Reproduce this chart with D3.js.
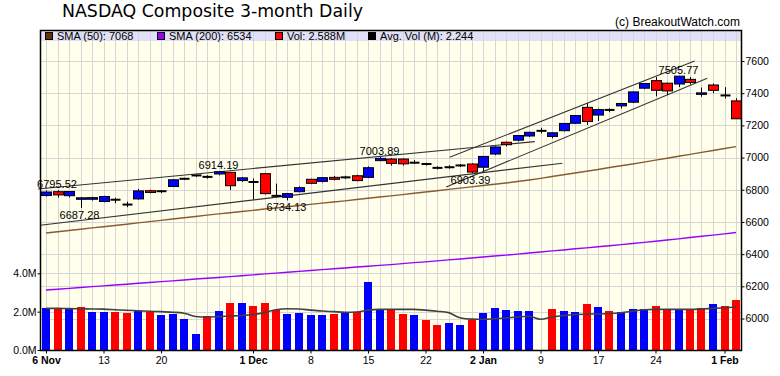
<!DOCTYPE html>
<html>
<head>
<meta charset="utf-8">
<script src="https://cdn.jsdelivr.net/npm/d3@7"></script>
<style>
body { margin: 0; background: #fff; }
svg { display: block; }
text { font-family: "Liberation Sans", Arial, sans-serif; fill: #000; }
</style>
</head>
<body>
<svg id="chart" width="780" height="376"></svg>
<script>
// trading days
var dates = [
  '2017-11-06','2017-11-07','2017-11-08','2017-11-09','2017-11-10','2017-11-13','2017-11-14','2017-11-15','2017-11-16','2017-11-17',
  '2017-11-20','2017-11-21','2017-11-22','2017-11-24','2017-11-27','2017-11-28','2017-11-29','2017-11-30','2017-12-01','2017-12-04',
  '2017-12-05','2017-12-06','2017-12-07','2017-12-08','2017-12-11','2017-12-12','2017-12-13','2017-12-14','2017-12-15','2017-12-18',
  '2017-12-19','2017-12-20','2017-12-21','2017-12-22','2017-12-26','2017-12-27','2017-12-28','2017-12-29','2018-01-02','2018-01-03',
  '2018-01-04','2018-01-05','2018-01-08','2018-01-09','2018-01-10','2018-01-11','2018-01-12','2018-01-16','2018-01-17','2018-01-18',
  '2018-01-19','2018-01-22','2018-01-23','2018-01-24','2018-01-25','2018-01-26','2018-01-29','2018-01-30','2018-01-31','2018-02-01',
  '2018-02-02'
];

var opens = [6764,6788,6763,6741,6741,6727,6738,6708,6743,6794, 6791,6820,6868,6889,6880,6898,6908,6857,6848,6900,
  6762,6753,6788,6865,6852,6877,6877,6887,6877,6981, 6991,6991,6968,6960,6936,6940,6951,6960,6940,7022,
  7095,7108,7134,7166,7131,7167,7213,7312,7264,7296, 7321,7344,7431,7478,7462,7457,7486,7395,7451,7386, 7352];
var highs = [6795.52,6797,6790,6752,6756,6763,6750,6726,6805,6800, 6796,6866,6875,6895,6890,6914.19,6911,6880,6871,6905,
  6838,6780,6822,6868,6879,6886,6887,6894,6945,7003.89, 6996,6996,6984,6967,6946,6952,6959,6965,7010,7070,
  7100,7140,7160,7185,7156,7213,7264,7337,7305,7306, 7340,7410,7463,7500,7466,7505.77,7500,7435,7460,7437, 7368];
var lows = [6758,6751,6752,6687.28,6733,6722,6717,6692,6738,6778, 6779,6818,6860,6880,6869,6890,6798,6849,6740,6770,
  6755,6734.13,6784,6835,6845,6858,6866,6852,6872,6977, 6950,6950,6960,6950,6926,6931,6941,6903.39,6915,7015,
  7070,7100,7128,7150,7120,7162,7209,7203,7227,7282, 7305,7339,7424,7380,7388,7438,7455,7378,7400,7367, 7240];
var closes = [6786,6768,6789,6750,6751,6758,6738,6708,6793,6783, 6791,6862,6868,6889,6880,6912,6825,6874,6848,6776,
  6762,6776,6813,6840,6875,6865,6877,6857,6937,6995, 6964,6961,6968,6960,6936,6940,6951,6910,7007,7066,
  7080,7137,7157,7166,7154,7212,7261,7224,7298,7296, 7336,7408,7460,7418,7414,7505.77,7467,7402,7418,7386, 7241];

// volume in millions
var volumes = [2.18,2.18,2.12,2.23,1.97,1.97,1.97,1.91,2.03,2.00, 1.81,1.89,1.62,0.83,1.77,2.03,2.45,2.45,2.30,2.45,
  2.09,1.88,1.93,1.83,1.83,1.88,1.91,1.98,3.55,2.14, 2.11,1.88,1.83,1.56,1.30,1.41,1.30,1.58,1.93,2.17,
  2.09,2.03,2.03,0,2.14,2.03,1.98,2.40,2.24,2.03, 1.98,2.14,2.14,2.30,2.10,2.10,2.09,2.21,2.42,2.30, 2.588];
var avgVol = [2.17,2.17,2.16,2.15,2.14,2.13,2.10,2.07,2.05,2.02, 2.00,1.97,1.92,1.75,1.72,1.74,1.77,1.80,1.85,1.95,
  2.10,2.15,2.14,2.08,2.03,2.00,1.97,1.98,2.08,2.12, 2.12,2.12,2.12,2.08,2.02,1.95,1.68,1.61,1.60,1.63,
  1.67,1.72,1.76,1.60,1.72,1.80,1.85,1.87,1.88,1.90, 1.94,2.02,2.10,2.12,2.12,2.12,2.12,2.14,2.17,2.20, 2.244];

var sma50 = [6531,6539,6547,6555,6563,6570,6578,6586,6594,6602, 6610,6618,6626,6634,6642,6650,6657,6665,6672,6680,
  6687,6694,6702,6709,6717,6724,6731,6739,6747,6755, 6762,6770,6778,6786,6794,6802,6810,6818,6826,6834,
  6842,6851,6861,6871,6882,6893,6904,6915,6926,6938, 6949,6960,6972,6984,6996,7008,7020,7032,7044,7056, 7068];
var sma200 = [6177,6182,6187,6193,6198,6203,6208,6213,6219,6224, 6229,6234,6239,6245,6250,6255,6260,6266,6271,6277,
  6282,6287,6293,6298,6304,6309,6314,6320,6325,6330, 6335,6341,6347,6352,6358,6364,6370,6376,6382,6388,
  6394,6400,6407,6413,6420,6426,6433,6439,6446,6452, 6459,6466,6473,6480,6488,6495,6503,6511,6518,6526, 6534];

// trend lines: [start index, start price, end index, end price]
var trendLines = [
  [-0.7, 6805, 42.5, 7099],
  [-0.5, 6579, 44.9, 6965],
  [35.1, 7002, 56.4, 7600],
  [34.8, 6817, 57.5, 7493]
];

var highMarks = [0, 15, 29, 55];
var lowMarks = [3, 21, 37];

var priceTicks = [6000,6200,6400,6600,6800,7000,7200,7400,7600];
var volTicks = [0, 2, 4];
var tickDates = ['2017-11-06','2017-11-13','2017-11-20','2017-12-01','2017-12-08','2017-12-15','2017-12-22','2018-01-02','2018-01-09','2018-01-17','2018-01-24','2018-02-01'];
var tickLabels = ['6 Nov','13','20','1 Dec','8','15','22','2 Jan','9','17','24','1 Feb'];
var tickBold = [true,false,false,true,false,false,false,true,false,false,false,true];

var legendItems = [
  {label: 'SMA (50): 7068', color: '#663300', x: 45},
  {label: 'SMA (200): 6534', color: '#9900ff', x: 157},
  {label: 'Vol: 2.588M', color: '#ff0000', x: 275},
  {label: 'Avg. Vol (M): 2.244', color: '#000000', x: 368}
];

var plotLeft = 40, plotRight = 741, plotTop = 30, plotBottom = 350;

var svg = d3.select('#chart');

var x = d3.scaleLinear().domain([0, 60]).range([46, 736]);
var yP = d3.scaleLinear().domain([6000, 7600]).range([318.5, 61]);
var yV = d3.scaleLinear().domain([0, 4]).range([350, 273.3]);

// title
svg.append('text').attr('x', 62).attr('y', 17)
  .style('font-family', '"DejaVu Sans", sans-serif').style('font-size', '17px')
  .attr('textLength', 301).attr('lengthAdjust', 'spacingAndGlyphs')
  .text('NASDAQ Composite 3-month Daily');
svg.append('text').attr('x', 740).attr('y', 26).attr('text-anchor', 'end')
  .style('font-size', '12px').text('(c) BreakoutWatch.com');

// plot background and legend band
svg.append('rect').attr('x', plotLeft).attr('y', plotTop).attr('width', plotRight - plotLeft).attr('height', plotBottom - plotTop)
  .attr('fill', '#ffffec');
svg.append('rect').attr('x', plotLeft + 1).attr('y', plotTop + 1).attr('width', plotRight - plotLeft - 1).attr('height', 10)
  .attr('fill', '#e0e0f8');

// grid
var grid = svg.append('g').attr('stroke', '#d6d6d6').attr('stroke-width', 1).attr('shape-rendering', 'crispEdges');
grid.selectAll('line.v').data(dates).enter().append('line')
  .attr('x1', function (d, i) { return Math.round(x(i)) + 0.5; })
  .attr('x2', function (d, i) { return Math.round(x(i)) + 0.5; })
  .attr('y1', plotTop).attr('y2', plotBottom);
grid.selectAll('line.p').data(priceTicks).enter().append('line')
  .attr('x1', plotLeft).attr('x2', plotRight)
  .attr('y1', function (d) { return Math.round(yP(d)) + 0.5; })
  .attr('y2', function (d) { return Math.round(yP(d)) + 0.5; });
grid.selectAll('line.vol').data(volTicks.slice(1)).enter().append('line')
  .attr('x1', plotLeft).attr('x2', plotRight)
  .attr('y1', function (d) { return Math.round(yV(d)) + 0.5; })
  .attr('y2', function (d) { return Math.round(yV(d)) + 0.5; });

// legend
var leg = svg.append('g').selectAll('g').data(legendItems).enter().append('g');
leg.append('rect').attr('x', function (d) { return d.x + 0.5; }).attr('y', 32.5).attr('width', 7).attr('height', 7)
  .attr('fill', function (d) { return d.color; }).attr('stroke', '#000').attr('stroke-width', 1);
leg.append('text').attr('x', function (d) { return d.x + 12; }).attr('y', 39.5)
  .style('font-size', '11px').text(function (d) { return d.label; });

// volume bars
svg.append('g').selectAll('rect').data(volumes).enter().append('rect')
  .attr('x', function (d, i) { return Math.round(x(i)) - 4; })
  .attr('width', 8)
  .attr('y', function (d) { return yV(d); })
  .attr('height', function (d) { return plotBottom - yV(d); })
  .attr('fill', function (d, i) { return i === 0 || closes[i] >= closes[i - 1] ? '#0000ff' : '#ff0000'; })
  .attr('shape-rendering', 'crispEdges');

// moving averages
var lineP = function (arr) {
  return d3.line().x(function (d, i) { return x(i); }).y(function (d) { return yP(d); })(arr);
};
svg.append('path').attr('d', lineP(sma200)).attr('fill', 'none').attr('stroke', '#9900ff').attr('stroke-width', 1.4);
svg.append('path').attr('d', lineP(sma50)).attr('fill', 'none').attr('stroke', '#8a5a30').attr('stroke-width', 1.4);

var volLine = d3.line().curve(d3.curveMonotoneX)
  .x(function (d, i) { return x(i); }).y(function (d) { return yV(d); });
svg.append('path').attr('d', volLine(avgVol)).attr('fill', 'none').attr('stroke', '#404040').attr('stroke-width', 1.6);

// trend lines
svg.append('g').selectAll('line').data(trendLines).enter().append('line')
  .attr('x1', function (d) { return x(d[0]); }).attr('y1', function (d) { return yP(d[1]); })
  .attr('x2', function (d) { return x(d[2]); }).attr('y2', function (d) { return yP(d[3]); })
  .attr('stroke', '#333').attr('stroke-width', 1.1);

// candles
var candles = svg.append('g').selectAll('g').data(dates).enter().append('g');
candles.append('line')
  .attr('x1', function (d, i) { return Math.round(x(i)) + 0.5; })
  .attr('x2', function (d, i) { return Math.round(x(i)) + 0.5; })
  .attr('y1', function (d, i) { return yP(highs[i]); })
  .attr('y2', function (d, i) { return yP(lows[i]); })
  .attr('stroke', '#000').attr('stroke-width', 1);
candles.filter(function (d, i) { return opens[i] !== closes[i]; }).append('rect')
  .attr('x', function (d) { var i = dates.indexOf(d); return Math.round(x(i)) - 4.5; })
  .attr('width', 10)
  .attr('y', function (d) { var i = dates.indexOf(d); return yP(Math.max(opens[i], closes[i])); })
  .attr('height', function (d) { var i = dates.indexOf(d); return Math.max(1.5, Math.abs(yP(opens[i]) - yP(closes[i]))); })
  .attr('fill', function (d) { var i = dates.indexOf(d); return closes[i] > opens[i] ? '#0000ff' : '#ff0000'; })
  .attr('stroke', '#000').attr('stroke-width', 1);
candles.filter(function (d, i) { return opens[i] === closes[i]; }).append('line')
  .attr('x1', function (d) { return Math.round(x(dates.indexOf(d))) - 4.5; })
  .attr('x2', function (d) { return Math.round(x(dates.indexOf(d))) + 5.5; })
  .attr('y1', function (d) { return yP(closes[dates.indexOf(d)]); })
  .attr('y2', function (d) { return yP(closes[dates.indexOf(d)]); })
  .attr('stroke', '#000').attr('stroke-width', 2);

// high / low annotations
var ann = svg.append('g').style('font-size', '11px');
ann.selectAll('text.h').data(highMarks).enter().append('text')
  .attr('x', function (i) { return Math.max(x(i), 57); })
  .attr('y', function (i) { return yP(highs[i]) - 2; })
  .attr('text-anchor', 'middle').text(function (i) { return highs[i].toFixed(2); });
ann.selectAll('text.l').data(lowMarks).enter().append('text')
  .attr('x', function (i) { return x(i) - 1; })
  .attr('y', function (i) { return yP(lows[i]) + 11; })
  .attr('text-anchor', 'middle').text(function (i) { return lows[i].toFixed(2); });

// frame
svg.append('rect').attr('x', plotLeft + 0.5).attr('y', plotTop + 0.5).attr('width', plotRight - plotLeft).attr('height', plotBottom - plotTop)
  .attr('fill', 'none').attr('stroke', '#000').attr('stroke-width', 1.5);

// axes
var rAxis = svg.append('g').attr('transform', 'translate(' + (plotRight + 0.5) + ',0)')
  .call(d3.axisRight(yP).tickValues(priceTicks).tickSize(3).tickPadding(1).tickFormat(d3.format('d')));
var lAxis = svg.append('g').attr('transform', 'translate(' + (plotLeft + 0.5) + ',0)')
  .call(d3.axisLeft(yV).tickValues(volTicks).tickSize(3).tickPadding(1)
    .tickFormat(function (d) { return d.toFixed(1) + 'M'; }));
var tickIdx = tickDates.map(function (d) { return dates.indexOf(d); });
var bAxis = svg.append('g').attr('transform', 'translate(0,' + (plotBottom + 0.5) + ')')
  .call(d3.axisBottom(x).tickValues(tickIdx).tickSize(3).tickPadding(3)
    .tickFormat(function (d, i) { return tickLabels[i]; }));
[rAxis, lAxis, bAxis].forEach(function (a) {
  a.select('.domain').remove();
  a.selectAll('text').style('font-family', '"Liberation Sans", Arial, sans-serif').style('font-size', '10.5px').attr('fill', '#000');
  a.selectAll('line').attr('stroke', '#000');
});
bAxis.selectAll('text').style('font-weight', function (d, i) { return tickBold[i] ? 'bold' : 'normal'; });
</script>
</body>
</html>
